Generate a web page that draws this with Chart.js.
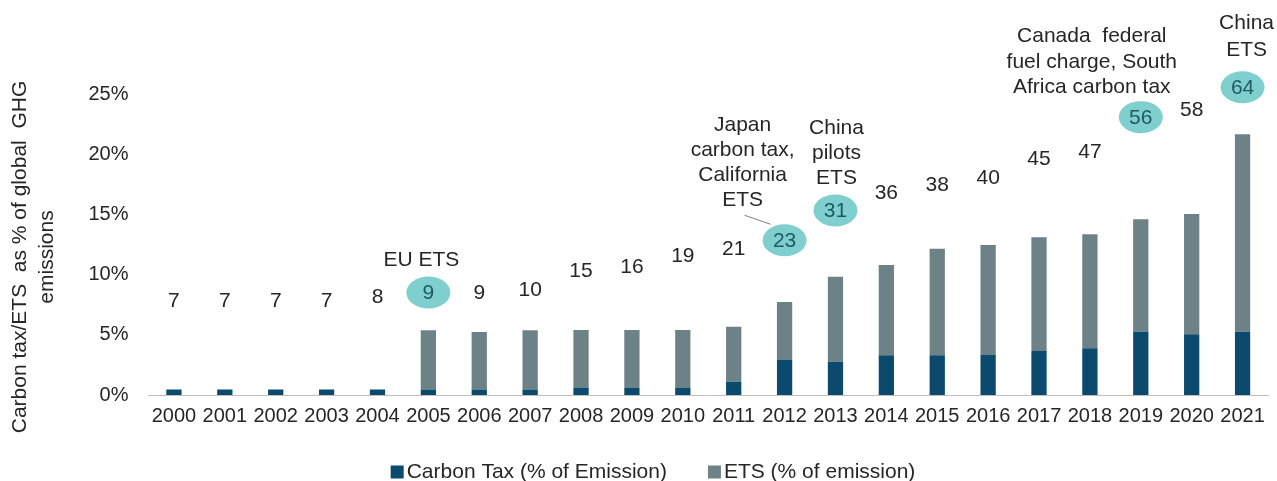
<!DOCTYPE html>
<html><head><meta charset="utf-8">
<script src="https://cdn.jsdelivr.net/npm/chart.js@4.4.1/dist/chart.umd.min.js"></script>
<style>html,body{margin:0;padding:0;background:#fff}#wrap{width:1277px;height:481px;position:relative}</style>
</head><body><div id="wrap"><canvas id="c"></canvas></div>
<script>
const years = ['2000','2001','2002','2003','2004','2005','2006','2007','2008','2009','2010','2011','2012','2013','2014','2015','2016','2017','2018','2019','2020','2021'];
const carbonTax = [0.45,0.45,0.45,0.45,0.45,0.45,0.45,0.45,0.58,0.58,0.58,1.1,2.9,2.77,3.3,3.3,3.32,3.65,3.88,5.26,5.04,5.26];
const ets = [0,0,0,0,0,4.92,4.78,4.92,4.82,4.82,4.82,4.57,4.82,7.06,7.5,8.85,9.14,9.45,9.47,9.34,9.99,16.39];
const schemeCount = [7,7,7,7,8,9,9,10,15,16,19,21,23,31,36,38,40,45,47,56,58,64];
const yTicks = [0,5,10,15,20,25];
const yTitle = ['Carbon tax/ETS  as % of global  GHG', 'emissions'];
const eventYears = ['2005','2012','2013','2019','2021'];
const eventTexts = [
  ['EU ETS'],
  ['Japan','carbon tax,','California','ETS'],
  ['China','pilots','ETS'],
  ['Canada  federal','fuel charge, South','Africa carbon tax'],
  ['China','ETS']
];

// layout of event captions (pixel offsets from the count label), kept apart from data
const eventLayout = [
  {dx:-7, dy:-32, lh:25},
  {dx:-42, dy:-115, lh:25, leader:[-40,-25,-14,-16]},
  {dx:1, dy:-82, lh:25},
  {dx:-49, dy:-80.5, lh:25.3},
  {dx:4, dy:-64, lh:26.7}
];

const FONT = '"Liberation Sans", Arial, sans-serif';
const TXT = '#262626';

const countPlugin = {
  id: 'countLabels',
  afterDatasetsDraw(chart) {
    const ctx = chart.ctx;
    const meta = chart.getDatasetMeta(2);
    ctx.save();
    ctx.font = '21px ' + FONT;
    ctx.textAlign = 'center';
    ctx.textBaseline = 'middle';
    meta.data.forEach((pt, i) => {
      const hi = eventYears.indexOf(years[i]) >= 0;
      if (hi) {
        ctx.fillStyle = '#7fcfcf';
        ctx.beginPath();
        ctx.ellipse(pt.x, pt.y, 22, 16, 0, 0, Math.PI * 2);
        ctx.fill();
        ctx.fillStyle = '#1d5b60';
      } else {
        ctx.fillStyle = TXT;
      }
      ctx.fillText(String(schemeCount[i]), pt.x, pt.y + 1);
    });
    eventYears.forEach((yr, k) => {
      const i = years.indexOf(yr);
      const pt = meta.data[i];
      const L = eventLayout[k];
      ctx.fillStyle = TXT;
      eventTexts[k].forEach((line, j) => {
        ctx.fillText(line, pt.x + L.dx, pt.y + L.dy + j * L.lh);
      });
      if (L.leader) {
        ctx.strokeStyle = '#7f7f7f';
        ctx.lineWidth = 1;
        ctx.beginPath();
        ctx.moveTo(pt.x + L.leader[0], pt.y + L.leader[1]);
        ctx.lineTo(pt.x + L.leader[2], pt.y + L.leader[3]);
        ctx.stroke();
      }
    });
    ctx.restore();
  },
  afterDraw(chart) {
    const ctx = chart.ctx;
    ctx.save();
    // y-axis title
    ctx.fillStyle = TXT;
    ctx.font = '21px ' + FONT;
    ctx.textAlign = 'center';
    ctx.textBaseline = 'middle';
    ctx.translate(0, 257);
    ctx.rotate(-Math.PI / 2);
    yTitle.forEach((line, j) => ctx.fillText(line, 0, 20 + j * 27));
    ctx.restore();
    // legend
    ctx.save();
    ctx.font = '21px ' + FONT;
    ctx.textBaseline = 'middle';
    ctx.textAlign = 'left';
    const items = chart.data.datasets.slice(0, 2);
    const box = 13, gapIn = 3, gapOut = 41;
    const widths = items.map(d => box + gapIn + ctx.measureText(d.label).width);
    const total = widths.reduce((a, b) => a + b, 0) + gapOut * (items.length - 1);
    let x = 653 - total / 2;
    const cy = 472;
    items.forEach((d, k) => {
      ctx.fillStyle = d.backgroundColor;
      ctx.fillRect(x, cy - box / 2, box, box);
      ctx.fillStyle = TXT;
      ctx.fillText(d.label, x + box + gapIn, cy);
      x += widths[k] + gapOut;
    });
    ctx.restore();
  }
};

new Chart(document.getElementById('c'), {
  data: {
    labels: years,
    datasets: [
      {type:'bar', label:'Carbon Tax (% of Emission)', data: carbonTax, backgroundColor:'#0b4a6c', barPercentage:0.3, categoryPercentage:1.0, yAxisID:'y', order:2},
      {type:'bar', label:'ETS (% of emission)', data: ets, backgroundColor:'#6d8287', barPercentage:0.3, categoryPercentage:1.0, yAxisID:'y', order:2},
      {type:'line', label:'count', data: schemeCount, yAxisID:'y2', showLine:false, pointRadius:0, pointHoverRadius:0, borderColor:'rgba(0,0,0,0)', backgroundColor:'rgba(0,0,0,0)', order:1}
    ]
  },
  options: {
    responsive: true,
    maintainAspectRatio: false,
    animation: false,
    layout: {padding: {top: 94, right: 9, left: 0, bottom: 0}},
    plugins: {
      tooltip: {enabled: false},
      legend: {display: false}
    },
    scales: {
      x: {
        stacked: true,
        afterFit(scale) { scale.height = 86; },
        grid: {display: false, drawTicks: false},
        border: {display: true, color: '#bfbfbf', width: 1},
        ticks: {font: {size: 20, family: FONT}, color: TXT, autoSkip: false, maxRotation: 0, padding: 9}
      },
      y: {
        stacked: true,
        min: 0, max: 25,
        afterFit(scale) { scale.width = 148.5; },
        afterBuildTicks(scale) { scale.ticks = yTicks.map(v => ({value: v})); },
        grid: {display: false, drawTicks: false},
        border: {display: false},
        ticks: {font: {size: 20, family: FONT}, color: TXT, padding: 20, callback: v => v + '%'}
      },
      y2: {
        display: false,
        min: -18.47, max: 62.2
      }
    }
  },
  plugins: [countPlugin]
});
</script></body></html>
